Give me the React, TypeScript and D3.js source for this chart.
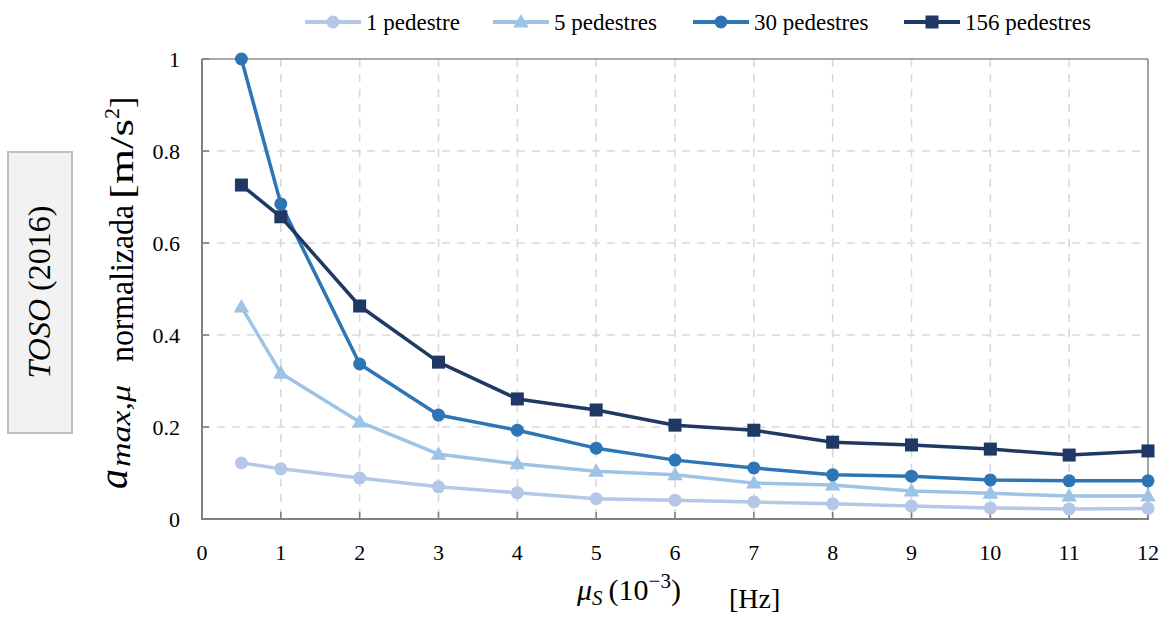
import React from "react";
import * as d3 from "d3";

const xValues = [0.5, 1, 2, 3, 4, 5, 6, 7, 8, 9, 10, 11, 12];
const seriesNames = ["1 pedestre", "5 pedestres", "30 pedestres", "156 pedestres"];
const ped1 = [0.122, 0.109, 0.089, 0.07, 0.057, 0.044, 0.041, 0.037, 0.033, 0.028, 0.024, 0.022, 0.023];
const ped5 = [0.461, 0.317, 0.211, 0.141, 0.12, 0.104, 0.096, 0.078, 0.074, 0.061, 0.056, 0.05, 0.05];
const ped30 = [1.0, 0.685, 0.337, 0.226, 0.193, 0.154, 0.128, 0.111, 0.096, 0.093, 0.085, 0.083, 0.083];
const ped156 = [0.726, 0.657, 0.463, 0.341, 0.261, 0.237, 0.204, 0.193, 0.167, 0.161, 0.152, 0.139, 0.148];
const xTicks = [0, 1, 2, 3, 4, 5, 6, 7, 8, 9, 10, 11, 12];
const yTicks = [0, 0.2, 0.4, 0.6, 0.8, 1];

const colors = ["#b4c7e7", "#9dc3e6", "#2e75b6", "#1f3864"];
const markers = ["circle", "triangle", "circle", "square"];
const legendX = [305, 493, 693, 904];

const W = 1170;
const H = 617;
const left = 202, right = 1148, top = 59, bottom = 519;
const serif = "Liberation Serif";
const fontStyle = { fontFamily: "'Liberation Serif', 'Times New Roman', Tinos, serif" };

function Marker({ type, x, y, color }: { type: string; x: number; y: number; color: string }) {
  if (type === "circle") return <circle cx={x} cy={y} r={6.5} fill={color} />;
  if (type === "square") return <rect x={x - 6.5} y={y - 6.5} width={13} height={13} fill={color} />;
  const p = d3.symbol().type(d3.symbolTriangle).size(105)();
  return <path d={p || ""} transform={`translate(${x},${y + 1})`} fill={color} />;
}

export default function App() {
  const x = d3.scaleLinear().domain([0, 12]).range([left, right]);
  const y = d3.scaleLinear().domain([0, 1]).range([bottom, top]);
  const data = [ped1, ped5, ped30, ped156];
  const line = d3
    .line<number>()
    .x((_, i) => x(xValues[i]))
    .y((d) => y(d));

  return (
    <svg width={W} height={H} style={{ display: "block", position: "absolute", left: 0, top: 0, background: "#fff" }}>
      <rect x={0} y={0} width={W} height={H} fill="#fff" />
      {/* grid */}
      {xTicks.slice(1, -1).map((t) => (
        <line key={"gx" + t} x1={x(t)} x2={x(t)} y1={top} y2={bottom} stroke="#d9d9d9" strokeWidth={1.6} strokeDasharray="8,7" />
      ))}
      {yTicks.slice(1, -1).map((t) => (
        <line key={"gy" + t} x1={left} x2={right} y1={y(t)} y2={y(t)} stroke="#d9d9d9" strokeWidth={1.6} strokeDasharray="8,7" />
      ))}
      {/* frame */}
      <line x1={left} x2={right} y1={top} y2={top} stroke="#8c8c8c" strokeWidth={1.6} />
      <line x1={right} x2={right} y1={top} y2={bottom} stroke="#8c8c8c" strokeWidth={1.6} />
      <line x1={left} x2={left} y1={top} y2={bottom + 1} stroke="#808080" strokeWidth={2} />
      <line x1={left - 1} x2={right + 1} y1={bottom} y2={bottom} stroke="#808080" strokeWidth={2} />
      {/* ticks */}
      {xTicks.map((t) => (
        <line key={"tx" + t} x1={x(t)} x2={x(t)} y1={bottom} y2={bottom - 7} stroke="#808080" strokeWidth={1.6} />
      ))}
      {yTicks.map((t) => (
        <line key={"ty" + t} x1={left} x2={left + 7} y1={y(t)} y2={y(t)} stroke="#808080" strokeWidth={1.6} />
      ))}
      <g style={fontStyle}>
        {/* tick labels */}
        {xTicks.map((t) => (
          <text key={"lx" + t} x={x(t)} y={560} textAnchor="middle" fontSize={22} fill="#000" fontFamily={serif}>
            {t}
          </text>
        ))}
        {yTicks.map((t) => (
          <text key={"ly" + t} x={180} y={y(t) + 8} textAnchor="end" fontSize={22} fill="#000" fontFamily={serif}>
            {t}
          </text>
        ))}
      </g>
      {/* series */}
      {data.map((vals, si) => (
        <g key={"s" + si}>
          <path d={line(vals) || ""} fill="none" stroke={colors[si]} strokeWidth={3.5} strokeLinejoin="round" />
          {vals.map((v, i) => (
            <Marker key={i} type={markers[si]} x={x(xValues[i])} y={y(v)} color={colors[si]} />
          ))}
        </g>
      ))}
      {/* legend */}
      <g style={fontStyle}>
        {seriesNames.map((n, si) => (
          <g key={"lg" + si}>
            <line x1={legendX[si]} x2={legendX[si] + 56} y1={22} y2={22} stroke={colors[si]} strokeWidth={4} />
            <Marker type={markers[si]} x={legendX[si] + 28} y={22} color={colors[si]} />
            <text x={legendX[si] + 61} y={30} fontSize={23} fill="#000" fontFamily={serif}>
              {n}
            </text>
          </g>
        ))}
        {/* x axis title */}
        <text y={600} fill="#000" fontSize={30} fontFamily={serif}>
          <tspan x={577} fontStyle="italic">μ</tspan>
          <tspan fontStyle="italic" fontSize={21} dy={5}>S</tspan>
          <tspan dy={-5} dx={6}>(10</tspan>
          <tspan fontSize={21} dy={-12}>−3</tspan>
          <tspan dy={12}>)</tspan>
          <tspan x={729} y={608} fontSize={28}>[Hz]</tspan>
        </text>
        {/* y axis title */}
        <text transform="translate(133,532) rotate(-90)" fill="#000" fontSize={34} fontFamily={serif}>
          <tspan fontStyle="italic" fontSize={40} x={43} dy={-6}>a</tspan>
          <tspan fontStyle="italic" fontSize={28} x={65} dy={3} textLength={82} lengthAdjust="spacingAndGlyphs">max,μ</tspan>
          <tspan x={170} dy={3} textLength={157} lengthAdjust="spacingAndGlyphs">normalizada</tspan>
          <tspan x={333} textLength={80} lengthAdjust="spacingAndGlyphs">[m/s</tspan>
          <tspan fontSize={22} dy={-14}>2</tspan>
          <tspan dy={14}>]</tspan>
        </text>
        {/* side box */}
        <rect x={8} y={152} width={64} height={281} fill="#f2f2f2" stroke="#bfbfbf" strokeWidth={2} />
        <text transform="translate(50,292) rotate(-90)" textAnchor="middle" fontSize={32} fill="#000" fontFamily={serif}>
          <tspan fontStyle="italic">TOSO</tspan>
          <tspan> (2016)</tspan>
        </text>
      </g>
    </svg>
  );
}
